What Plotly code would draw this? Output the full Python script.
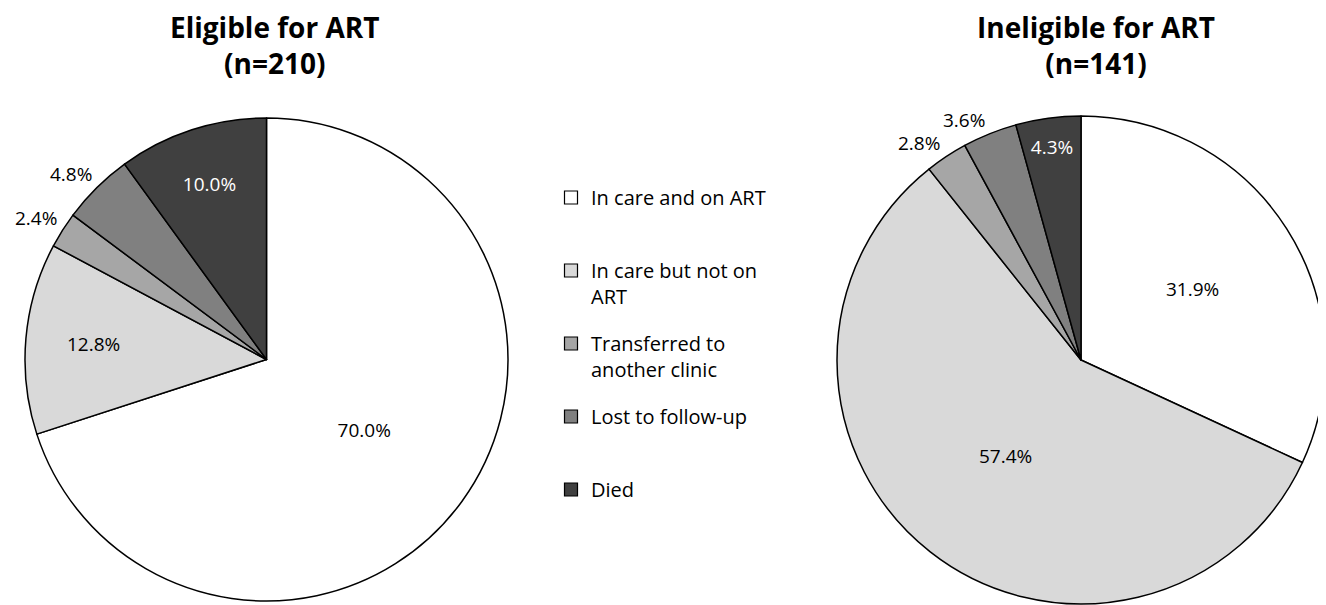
import math
import plotly.graph_objects as go

categories = ["In care and on ART", "In care but not on ART", "Transferred to another clinic",
              "Lost to follow-up", "Died"]
legend_text = ["In care and on ART", "In care but not on<br>ART", "Transferred to<br>another clinic",
               "Lost to follow-up", "Died"]
eligible_pct = [70.0, 12.8, 2.4, 4.8, 10.0]
ineligible_pct = [31.9, 57.4, 2.8, 3.6, 4.3]
titles = ["Eligible for ART<br>(n=210)", "Ineligible for ART<br>(n=141)"]
colors = ["#ffffff", "#d9d9d9", "#a6a6a6", "#808080", "#404040"]

FONT = "Open Sans"
W, H = 1326, 605

# which slices carry their label outside the pie
outside = [False, False, True, True, False]
inside_colors = ["black", "black", "black", "black", "white"]

fig = go.Figure()


def add_pie(values, cx, cy, r, shift):
    sx, sy = shift
    fig.add_trace(go.Pie(
        labels=categories, values=values, sort=False, direction="clockwise", rotation=0,
        marker=dict(colors=colors, line=dict(color="black", width=1.5)),
        texttemplate="%{value:.1f}%",
        textposition=["none" if o else "inside" for o in outside],
        insidetextorientation="horizontal",
        textfont=dict(size=19, family=FONT),
        insidetextfont=dict(color=inside_colors, size=19, family=FONT),
        domain=dict(x=[(cx - sx - r) / W, (cx - sx + r) / W],
                    y=[1 - (cy - sy + r) / H, 1 - (cy - sy - r) / H]),
        showlegend=False, hoverinfo="label+percent",
    ))
    # outside labels, placed just beyond the rim at each slice's mid-angle
    total = sum(values)
    cum = 0.0
    for v, o in zip(values, outside):
        mid = (cum + v / 2) / total * 2 * math.pi
        cum += v
        if not o:
            continue
        dx, dy = math.sin(mid), -math.cos(mid)
        ex = cx + dx * (r + 6) + (-8 if dx < 0 else 8)
        ey = cy + dy * (r + 6)
        fig.add_annotation(
            text=f"{v:.1f}%", x=ex / W, y=1 - ey / H, xref="paper", yref="paper",
            showarrow=False, xanchor="right" if dx < 0 else "left",
            yanchor="bottom" if dy < 0 else "top",
            font=dict(size=19, family=FONT, color="black"))


add_pie(eligible_pct, 267.5, 357.5, 241.5, (9, 6))
add_pie(ineligible_pct, 1080, 359, 244, (7, 7))

# legend entries
for i, (name, col) in enumerate(zip(legend_text, colors)):
    fig.add_trace(go.Scatter(
        x=[None], y=[None], mode="markers", name=name + ("<br>&nbsp;" if "<br>" not in name else ""),
        marker=dict(symbol="square", size=13, color=col, line=dict(color="black", width=1.2)),
        legendgroup=f"g{i}", showlegend=True, hoverinfo="skip",
    ))

for t, xc in zip(titles, [266, 1088]):
    fig.add_annotation(text=f"<b>{t}</b>", x=xc / W, y=1 - 37 / H, xref="paper", yref="paper",
                       showarrow=False, xanchor="center", yanchor="middle",
                       font=dict(size=28, family=FONT, color="black"))

fig.update_layout(
    width=W, height=H, margin=dict(l=0, r=0, t=0, b=0),
    paper_bgcolor="white", plot_bgcolor="white",
    font=dict(family=FONT, color="black"),
    xaxis=dict(visible=False), yaxis=dict(visible=False),
    legend=dict(x=543 / W, y=1 - 170 / H, xanchor="left", yanchor="top",
                font=dict(size=20, family=FONT, color="black"), valign="top",
                tracegroupgap=18, itemwidth=30, bgcolor="rgba(0,0,0,0)"),
)

fig.write_html("out.html")
